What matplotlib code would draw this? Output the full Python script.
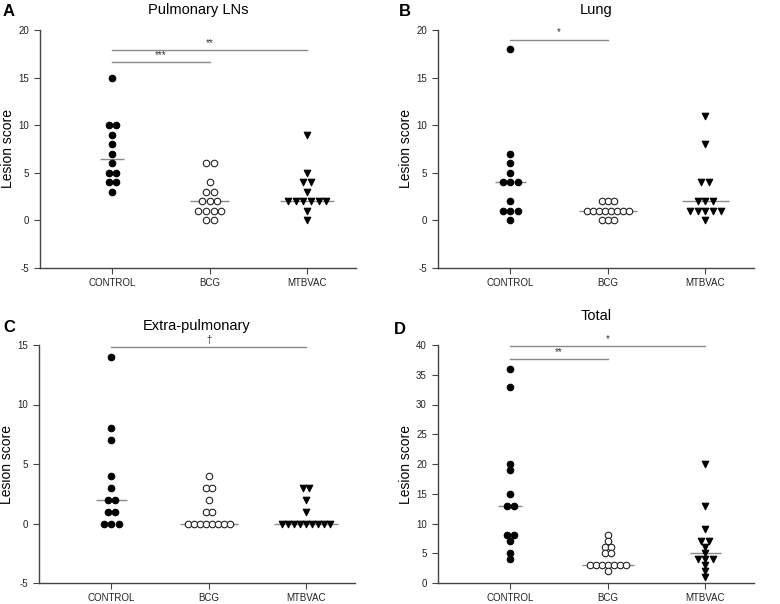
import numpy as np
import matplotlib
matplotlib.use("Agg")
import matplotlib.pyplot as plt
from collections import Counter

plt.rcParams['font.family'] = ['Liberation Sans', 'DejaVu Sans']

categories = ["CONTROL", "BCG", "MTBVAC"]

# Panel A: Pulmonary LNs
lns_control = [15, 10, 10, 9, 8, 7, 6, 5, 5, 4, 4, 3]
lns_bcg = [6, 6, 4, 3, 3, 2, 2, 2, 1, 1, 1, 1, 0, 0]
lns_mtbvac = [9, 5, 4, 4, 3, 2, 2, 2, 2, 2, 2, 1, 0]

# Panel B: Lung
lung_control = [18, 7, 6, 5, 4, 4, 4, 2, 1, 1, 1, 0]
lung_bcg = [2, 2, 2, 1, 1, 1, 1, 1, 1, 1, 1, 0, 0, 0]
lung_mtbvac = [11, 8, 4, 4, 2, 2, 2, 1, 1, 1, 1, 1, 0]

# Panel C: Extra-pulmonary
extra_control = [14, 8, 7, 4, 3, 2, 2, 1, 1, 0, 0, 0]
extra_bcg = [4, 3, 3, 2, 1, 1, 0, 0, 0, 0, 0, 0, 0, 0]
extra_mtbvac = [3, 3, 2, 1, 0, 0, 0, 0, 0, 0, 0, 0, 0]

# Panel D: Total
total_control = [36, 33, 20, 19, 15, 13, 13, 8, 8, 7, 5, 4]
total_bcg = [8, 7, 6, 6, 5, 5, 3, 3, 3, 3, 3, 3, 3, 2]
total_mtbvac = [20, 13, 9, 7, 7, 6, 5, 4, 4, 4, 3, 2, 1]

panels = [
    dict(letter="A", title="Pulmonary LNs", data=[lns_control, lns_bcg, lns_mtbvac],
         ylim=(-5, 20), yticks=[-5, 0, 5, 10, 15, 20],
         sig=[(0, 2, 17.9, "**"), (0, 1, 16.6, "***")]),
    dict(letter="B", title="Lung", data=[lung_control, lung_bcg, lung_mtbvac],
         ylim=(-5, 20), yticks=[-5, 0, 5, 10, 15, 20],
         sig=[(0, 1, 19.0, "*")]),
    dict(letter="C", title="Extra-pulmonary", data=[extra_control, extra_bcg, extra_mtbvac],
         ylim=(-5, 15), yticks=[-5, 0, 5, 10, 15],
         sig=[(0, 2, 14.8, "\u2020")]),
    dict(letter="D", title="Total", data=[total_control, total_bcg, total_mtbvac],
         ylim=(0, 40), yticks=[0, 5, 10, 15, 20, 25, 30, 35, 40],
         sig=[(0, 2, 39.8, "*"), (0, 1, 37.7, "**")]),
]

W, H = 780, 604
fig = plt.figure(figsize=(W / 100, H / 100), dpi=100)

# axes boxes in pixels: (left, top, right, bottom)
boxes = [(40, 30, 356, 268), (438, 30, 754, 268),
         (39, 345, 355, 583), (438, 345, 754, 583)]
letter_pos = [(9, 12), (405, 12), (9, 328), (400, 330)]
title_y = [10, 10, 326, 316]

styles = [dict(marker="o", facecolor="black", edgecolor="black"),
          dict(marker="o", facecolor="white", edgecolor="#222222"),
          dict(marker="v", facecolor="black", edgecolor="black")]

spine_col = "#444444"
grey = "#8a8a8a"
px_per_cat = 97.0

for p, box, lp, ty in zip(panels, boxes, letter_pos, title_y):
    l, t, r, b = box
    ax = fig.add_axes([l / W, 1 - b / H, (r - l) / W, (b - t) / H])
    ax.set_xlim(-0.742, 2.5)
    ax.set_ylim(*p["ylim"])
    for s in ["top", "right"]:
        ax.spines[s].set_visible(False)
    for s in ["left", "bottom"]:
        ax.spines[s].set_color(spine_col)
        ax.spines[s].set_linewidth(1.0)
    ax.set_xticks(range(3))
    ax.set_xticklabels(categories, fontsize=7, color="#222222")
    ax.set_yticks(p["yticks"])
    ax.set_yticklabels([str(v) for v in p["yticks"]], fontsize=7, color="#222222")
    ax.tick_params(axis="both", direction="out", length=4, width=0.8, color=spine_col, pad=4)
    ax.tick_params(axis="x", pad=3)
    ax.set_ylabel("Lesion score", fontsize=10, labelpad=2)

    for gi, vals in enumerate(p["data"]):
        cnt = Counter(vals)
        nmax = max(cnt.values())
        sp_px = 7.6 if nmax <= 6 else 6.0
        sp = sp_px / px_per_cat
        xs, ys = [], []
        for v, k in cnt.items():
            for i in range(k):
                xs.append(gi + (i - (k - 1) / 2) * sp)
                ys.append(v)
        st = styles[gi]
        ax.scatter(xs, ys, s=22, marker=st["marker"], facecolors=st["facecolor"],
                   edgecolors=st["edgecolor"], linewidths=0.8, zorder=3, clip_on=False)
        med = np.median(vals)
        half = ((nmax - 1) * sp_px / 2 + 8) / px_per_cat
        ax.hlines(med, gi - half, gi + half, color=grey, lw=1.0, zorder=2)

    for (g1, g2, yv, lab) in p["sig"]:
        ax.plot([g1, g2], [yv, yv], color=grey, lw=1.0, clip_on=False, zorder=1)
        ax.annotate(lab, xy=((g1 + g2) / 2, yv), xytext=(0, 1.5), textcoords="offset points",
                    ha="center", va="bottom", fontsize=7, color="#333333",
                    annotation_clip=False)

    fig.text((l + r) / 2 / W, 1 - ty / H, p["title"], ha="center", va="center", fontsize=10.5)
    fig.text(lp[0] / W, 1 - lp[1] / H, p["letter"], ha="center", va="center",
             fontsize=12, fontweight="bold")

fig.savefig("out.png", dpi=100)
